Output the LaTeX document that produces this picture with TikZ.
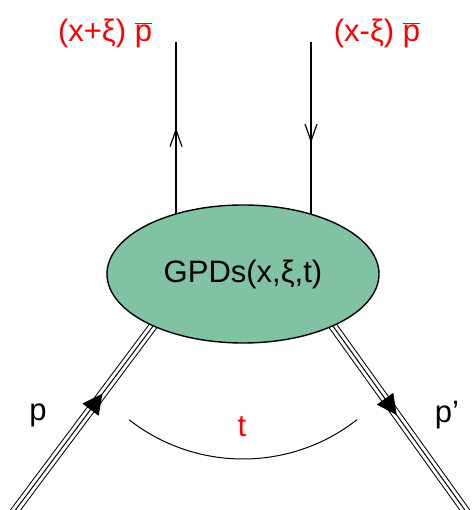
\documentclass[tikz,border=0pt]{standalone}
\usepackage{fontspec}
\setmainfont{Liberation Sans}
\usepackage{xcolor}
\usetikzlibrary{shapes.geometric, arrows.meta, decorations.markings, backgrounds, calc}

\definecolor{gpdgreen}{RGB}{128,194,163}

\begin{document}
\begin{tikzpicture}[x=1pt,y=1pt,
    blob/.style={ellipse,draw,line width=1.4pt,fill=gpdgreen,minimum width=272pt,minimum height=138pt,inner sep=0pt,outer sep=0pt},
    lbl/.style={font=\fontsize{31}{34}\selectfont},
    quark/.style={line width=1.2pt,decoration={markings,mark=at position #1 with {\arrow{Straight Barb[length=17pt,width=12pt]}}},postaction={decorate}},
    proton/.style={line width=1pt,preaction={draw,line width=9pt},preaction={draw,white,line width=7pt},
        decoration={markings,mark=at position #1 with {\arrow{Triangle[length=20pt,width=20pt]}}},postaction={decorate}}]
    \useasboundingbox (0,0) rectangle (471,510);

    \node[blob] (gpd) at (243,236) {\fontsize{31}{34}\selectfont GPDs(x,ξ,t)};

    \coordinate (qa) at (176,468);
    \coordinate (qb) at (311,468);
    \coordinate (pin) at (8,-10);
    \coordinate (pout) at (472,-10);

    \node[lbl,text=red] (lqa) at (105,477) {(x+ξ) \ensuremath{\overline{\mbox{p}}}};
    \node[lbl,text=red] (lqb) at (377,477) {(x-ξ) \ensuremath{\overline{\mbox{p}}}};
    \node[lbl] (lpin) at (38,95) {p};
    \node[lbl] (lpout) at (447,95) {p’};
    \node[lbl,text=red] (lt) at (242,83) {t};

    \begin{scope}[on background layer]
        \draw[quark=0.63] (qa |- gpd.center) -- (qa);
        \draw[quark=0.435] (qb) -- (qb |- gpd.center);
        \draw[proton=0.62] (pin) -- ($(gpd.210)!-12pt!(pin)$);
        \draw[proton=0.485] ($(gpd.330)!-12pt!(pout)$) -- (pout);
    \end{scope}

    \draw[line width=1pt] (gpd.center) ++(232:185) arc[start angle=232,end angle=308,radius=185];
\end{tikzpicture}
\end{document}
